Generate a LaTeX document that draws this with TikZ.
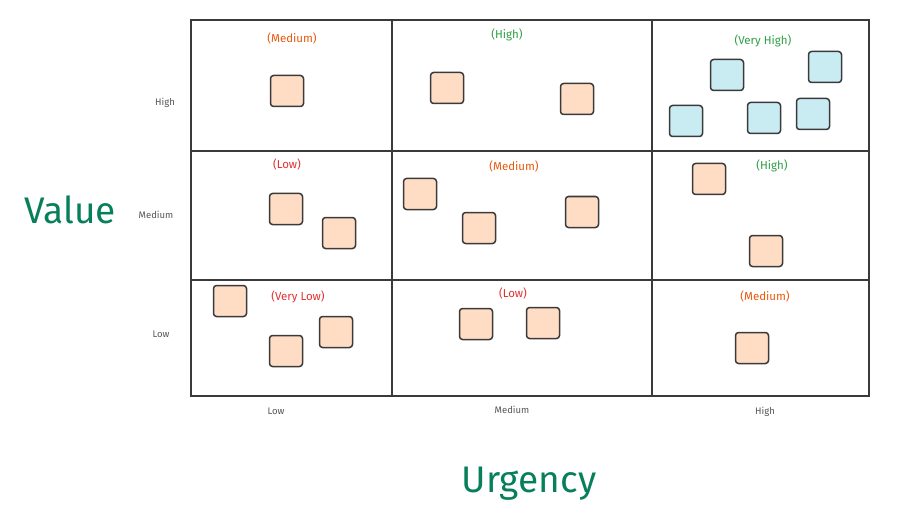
\documentclass[tikz,border=0pt]{standalone}
\usepackage{fontspec}
\setmainfont{Fira Sans}
\definecolor{peach}{HTML}{FFDCC4}
\definecolor{sky}{HTML}{C9ECF2}
\definecolor{lorange}{HTML}{E8590C}
\definecolor{lgreen}{HTML}{2F9E44}
\definecolor{lred}{HTML}{E03131}
\definecolor{tgreen}{HTML}{087F5B}
\definecolor{gridc}{HTML}{3A3A3A}
\definecolor{axisc}{HTML}{555555}
\tikzset{
  card/.style={draw=gridc, line width=1.5pt, rounded corners=3pt, minimum width=33pt, minimum height=31pt, inner sep=0pt},
  warm/.style={card, fill=peach},
  cool/.style={card, fill=sky},
  cell/.style={draw=gridc, line width=1.3pt},
  tag/.style={font=\fontsize{11.5}{12}\selectfont, inner sep=0pt},
  axislab/.style={font=\fontsize{9.5}{10}\selectfont, text=axisc, inner sep=0pt},
  title/.style={font=\fontsize{37}{38}\selectfont, text=tgreen, inner sep=0pt}
}
\begin{document}
\begin{tikzpicture}[x=1pt,y=-1pt]
\useasboundingbox (0,0) rectangle (900,524);
% grid cells
\draw[cell] (191,20) rectangle (869,396);
\draw[cell] (392,20) -- (392,396);
\draw[cell] (652,20) -- (652,396);
\draw[cell] (191,151) -- (869,151);
\draw[cell] (191,280) -- (869,280);
% cell tags
\node[tag, text=lorange] (t11) at (292,38) {(Medium)};
\node[tag, text=lgreen] (t12) at (507,35) {(High)};
\node[tag, text=lgreen] (t13) at (763,41) {(Very High)};
\node[tag, text=lred] (t21) at (287,164) {(Low)};
\node[tag, text=lorange] (t22) at (514,166) {(Medium)};
\node[tag, text=lgreen] (t23) at (772,166) {(High)};
\node[tag, text=lred] (t31) at (298,297) {(Very Low)};
\node[tag, text=lred] (t32) at (513,293) {(Low)};
\node[tag, text=lorange] (t33) at (765,296) {(Medium)};
% cards
\node[warm] (a1) at (287,91) {};
\node[warm] (b1) at (447,88) {};
\node[warm] (b2) at (577,99) {};
\node[cool] (c1) at (727,75) {};
\node[cool] (c2) at (825,67) {};
\node[cool] (c3) at (686,121) {};
\node[cool] (c4) at (764,118) {};
\node[cool] (c5) at (813,114) {};
\node[warm] (d1) at (286,209) {};
\node[warm] (d2) at (339,233) {};
\node[warm] (e1) at (420,194) {};
\node[warm] (e2) at (479,228) {};
\node[warm] (e3) at (582,212) {};
\node[warm] (f1) at (709,179) {};
\node[warm] (f2) at (766,251) {};
\node[warm] (g1) at (230,301) {};
\node[warm] (g2) at (286,351) {};
\node[warm] (g3) at (336,332) {};
\node[warm] (h1) at (476,324) {};
\node[warm] (h2) at (543,323) {};
\node[warm] (i1) at (752,348) {};
% axis labels
\node[axislab] (vh) at (165,103) {High};
\node[axislab] (vm) at (156,215) {Medium};
\node[axislab] (vl) at (161,334) {Low};
\node[axislab] (ul) at (276,411) {Low};
\node[axislab] (um) at (512,410) {Medium};
\node[axislab] (uh) at (765,412) {High};
% titles
\node[title] (value) at (70,210) {Value};
\node[title] (urgency) at (529,484) {Urgency};
\end{tikzpicture}
\end{document}
